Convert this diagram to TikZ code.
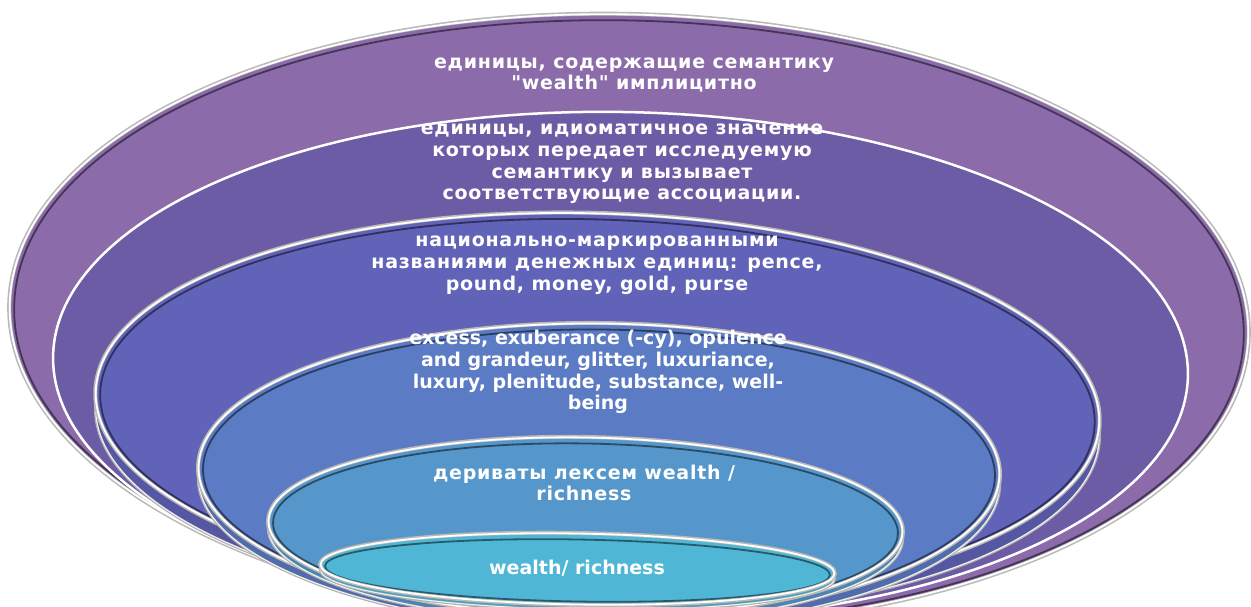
\documentclass[tikz,border=0pt]{standalone}
\usepackage{fontspec}
\setmainfont{DejaVu Sans}
\newfontfamily\widefont[LetterSpace=4]{DejaVu Sans}
\definecolor{cA}{HTML}{8B6BAA}
\definecolor{cB}{HTML}{6B5CA5}
\definecolor{cC}{HTML}{6163B9}
\definecolor{cD}{HTML}{5B7BC5}
\definecolor{cE}{HTML}{5597CB}
\definecolor{cF}{HTML}{4FB7D5}
\tikzset{
  txt/.style={text=white, font=\bfseries\fontsize{19}{21.8}\selectfont, align=center, inner sep=0pt},
  wtxt/.style={txt, font=\widefont\bfseries\fontsize{19}{21.8}\selectfont},
}
% face of a ring: cx, cy, rx, ry, angle, colour
\newcommand\myring[6]{%
  \fill[#6, rotate around={#5:(#1,#2)}] (#1,#2) ellipse [x radius=#3, y radius=#4];
  \draw[black, opacity=.5, line width=1.8pt, rotate around={#5:(#1,#2)}] (#1,#2+1.5) ellipse [x radius=#3-5, y radius=#4-5];
  \draw[gray!55, line width=4pt, rotate around={#5:(#1,#2)}] (#1,#2) ellipse [x radius=#3, y radius=#4];
  \draw[white, line width=1.8pt, rotate around={#5:(#1,#2)}] (#1,#2) ellipse [x radius=#3-0.5, y radius=#4-0.5];
}
% side (thickness) of a ring: cx, cy, rx, ry, angle, colour, depth
\newcommand\myside[7]{%
  \fill[#6!88!black, rotate around={#5:(#1,#2+#7)}] (#1,#2+#7) ellipse [x radius=#3, y radius=#4];
  \draw[gray!60, line width=2.5pt, rotate around={#5:(#1,#2+#7)}] (#1,#2+#7) ellipse [x radius=#3, y radius=#4];
  \draw[white!90!gray, line width=1pt, rotate around={#5:(#1,#2+#7)}] (#1,#2+#7) ellipse [x radius=#3-0.5, y radius=#4-0.5];
}
\begin{document}
\begin{tikzpicture}[x=1pt,y=-1pt]
\useasboundingbox (0,0) rectangle (1251,607);
\fill[white] (0,0) rectangle (1251,607);
\clip (0,0) rectangle (1251,607);
% outer ring
\myring{629}{320}{620}{306}{-1.5}{cA}
% second ring (plain white edge)
\fill[cB, rotate around={-1:(620.5,366)}] (620.5,366) ellipse [x radius=567.5, y radius=254];
\draw[white, line width=2.5pt, rotate around={-1:(620.5,366)}] (620.5,366) ellipse [x radius=567.5, y radius=254];
% inner rings
\myside{597.5}{407}{502.5}{194}{-1.8}{cC}{15}
\myring{597.5}{407}{502.5}{194}{-1.8}{cC}
\myside{599}{471}{401}{148}{-0.5}{cD}{10}
\myring{599}{471}{401}{148}{-0.5}{cD}
\myside{585.5}{526.5}{317.5}{89.5}{-1}{cE}{7}
\myring{585.5}{526.5}{317.5}{89.5}{-1}{cE}
\myside{577.5}{569}{257.5}{36}{-1}{cF}{5}
\myring{577.5}{569}{257.5}{36}{-1}{cF}
% texts
\node[wtxt] (t1) at (634,75) {единицы, содержащие семантику\\"wealth" имплицитно};
\node[wtxt] (t2) at (622,164) {единицы, идиоматичное значение\\которых передает исследуемую\\семантику и вызывает\\соответствующие ассоциации.};
\node[wtxt] (t3) at (597,265) {национально-маркированными\\названиями денежных единиц: pence,\\pound, money, gold, purse};
\node[txt] (t4) at (598,372) {excess, exuberance (-cy), opulence\\and grandeur, glitter, luxuriance,\\luxury, plenitude, substance, well-\\being};
\node[wtxt] (t5) at (584,483) {дериваты лексем wealth /\\richness};
\node[txt] (t6) at (577,568) {wealth/ richness};
\end{tikzpicture}
\end{document}
